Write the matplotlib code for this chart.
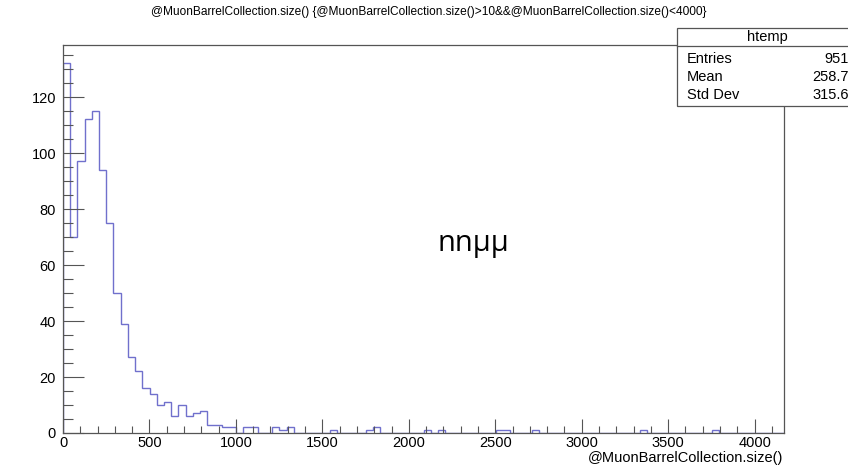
import matplotlib.pyplot as plt
import numpy as np
from matplotlib.patches import Rectangle
from matplotlib.ticker import MultipleLocator

# ROOT htemp: 100 bins, counts
N_BINS = 100
X_MIN, X_MAX = 0, 4170
head_counts = [132, 70, 97, 112, 115, 94, 75, 50, 39, 27, 22, 16, 14, 10, 11, 6,
               10, 6, 7, 8, 3, 3, 2, 2, 0, 2, 2, 0, 0, 2, 1, 2]
tail_bins = [37, 42, 43, 50, 52, 60, 61, 65, 80, 90]
tail_counts = [1, 1, 2, 1, 1, 1, 1, 1, 1, 1]

title = ("@MuonBarrelCollection.size() {@MuonBarrelCollection.size()>10"
         "&&@MuonBarrelCollection.size()<4000}")
xlabel = "@MuonBarrelCollection.size()"
stats_name = "htemp"
stats_rows = [("Entries", "951"), ("Mean", "258.7"), ("Std Dev", "315.6")]
annotation = "nnμμ"

plt.rcParams["font.family"] = ["Liberation Sans", "DejaVu Sans"]

counts = np.zeros(N_BINS)
counts[:len(head_counts)] = head_counts
counts[tail_bins] = tail_counts
edges = np.linspace(X_MIN, X_MAX, N_BINS + 1)

W, H = 848, 467
fig = plt.figure(figsize=(W / 100, H / 100), dpi=100)
ax = fig.add_axes([63 / W, (H - 433) / H, (784 - 63) / W, (433 - 45) / H])

ax.stairs(counts, edges, color="#7070cc", linewidth=1.0)
ax.set_xlim(X_MIN, X_MAX)
ax.set_ylim(0, max(counts) * 1.05)

for side in ax.spines.values():
    side.set_color("#555555")
    side.set_linewidth(0.9)

ax.xaxis.set_major_locator(MultipleLocator(500))
ax.xaxis.set_minor_locator(MultipleLocator(100))
ax.yaxis.set_major_locator(MultipleLocator(20))
ax.yaxis.set_minor_locator(MultipleLocator(5))
ax.tick_params(which="both", direction="in", colors="#555555", labelcolor="black",
               labelsize=10.5, width=0.8)
ax.tick_params(axis="x", which="major", length=10, pad=2)
ax.tick_params(axis="x", which="minor", length=5)
ax.tick_params(axis="y", which="major", length=15, pad=5)
ax.tick_params(axis="y", which="minor", length=7)

fig.text(429 / W, 1 - 12 / H, title, ha="center", va="center", fontsize=8.6)
fig.text(783 / W, 1 - 458 / H, xlabel, ha="right", va="center", fontsize=10.5)
ax.text(473 / W, 1 - 243 / H, annotation, transform=fig.transFigure,
        ha="center", va="center", fontsize=21, family=["Open Sans", "DejaVu Sans"])

# stats box (runs off the right edge like the original)
box_l, box_t, box_b, head_b, box_r = 677, 28, 106, 46, 870
fig.patches.append(Rectangle((box_l / W, 1 - box_b / H), (box_r - box_l) / W,
                             (box_b - box_t) / H, transform=fig.transFigure,
                             facecolor="white", edgecolor="#555555", linewidth=0.9))
fig.lines.append(plt.Line2D([box_l / W, box_r / W], [1 - head_b / H] * 2,
                            transform=fig.transFigure, color="#555555", linewidth=0.9))
fig.text(767 / W, 1 - 37 / H, stats_name, ha="center", va="center", fontsize=10.5)
for i, (name, val) in enumerate(stats_rows):
    y = 1 - (59 + 18 * i) / H
    fig.text(687 / W, y, name, ha="left", va="center", fontsize=10.5)
    fig.text(849 / W, y, val, ha="right", va="center", fontsize=10.5)

fig.savefig("out.png", dpi=100)
